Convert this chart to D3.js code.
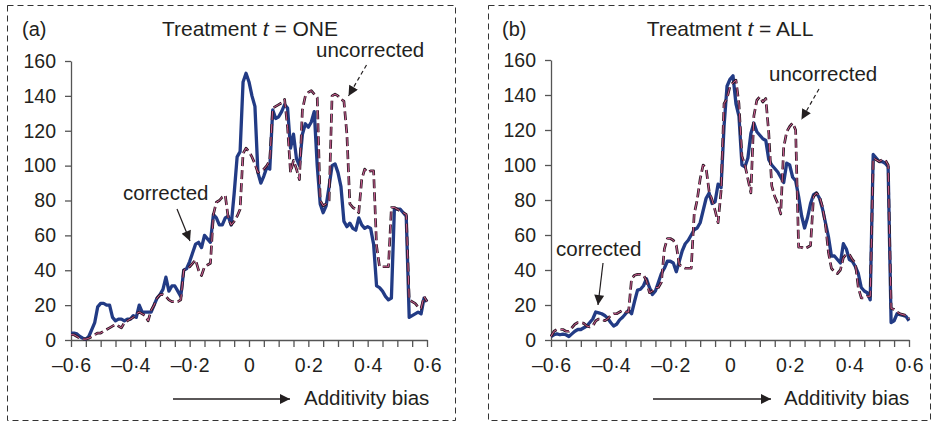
<!DOCTYPE html>
<html>
<head>
<meta charset="utf-8">
<script src="https://cdn.jsdelivr.net/npm/d3@7"></script>
<style>
  body { margin: 0; background: #fff; }
  svg { display: block; }
  text { font-family: "Liberation Sans", Arial, Helvetica, sans-serif; fill: #231f20; }
</style>
</head>
<body>
<svg id="chart" width="932" height="422"></svg>
<script>
// ---------------- data ----------------
// bin centres of the additivity bias histogram (-0.60 ... 0.60, step 0.01)
const bias = d3.range(-60, 61).map(i => i / 100);

// Panel (a): Treatment t = ONE
const oneCorrected = [
  4, 4, 3.5, 2, 1, 0.5, 2, 6, 10, 19,
  21, 21, 20, 20, 13, 11, 12, 12, 11, 12,
  12, 14, 13, 20, 16, 16, 16, 16, 20, 24,
  26, 29, 36, 28, 31, 31, 28, 25, 40, 41,
  45, 50, 55, 56, 53, 60, 58, 56, 72, 70,
  66, 66, 70, 71, 66, 84, 105, 108, 148, 153,
  148, 140, 134, 96, 90, 94, 99, 98, 132, 127,
  128, 131, 135, 133, 110, 118, 104, 100, 118, 124,
  122, 125, 131, 100, 78, 73, 77, 88, 100, 101,
  96, 88, 68, 65, 67, 64, 63, 70, 66, 64,
  65, 64, 55, 31, 30, 28, 25, 23, 24, 75,
  75, 75, 73, 71, 13, 14, 15, 16, 15, 24,
  22
];
const oneUncorrected = [
  3, 3, 2, 1, 0.5, 0.5, 1, 2, 3, 4,
  4, 5, 6, 7, 8, 9, 8, 7, 10, 11,
  12, 13, 15, 16, 15, 14, 11, 17, 20, 24,
  26, 26, 25, 23, 22, 22, 22, 23, 40, 41,
  42, 44, 46, 40, 37, 42, 43, 44, 72, 79,
  80, 82, 83, 70, 66, 68, 71, 75, 107, 110,
  108, 105, 101, 96, 97, 98, 100, 103, 133, 134,
  135, 136, 138, 122, 96, 103, 98, 92, 132, 140,
  142, 143, 141, 139, 80, 77, 78, 80, 140, 141,
  140, 138, 137, 118, 78, 76, 75, 73, 92, 98,
  96, 97, 97, 54, 42, 42, 42, 42, 76, 76,
  75, 74, 73, 72, 23, 22, 21, 19, 18, 25,
  22
];

// Panel (b): Treatment t = ALL
const allCorrected = [
  2, 3, 3.5, 3, 3.4, 3, 2, 3.5, 5, 6,
  6, 7, 8, 10, 12, 16, 15.5, 15, 14, 12.5,
  10, 8, 9, 11.5, 13, 15, 17, 15, 22, 28.5,
  29, 31, 35, 30, 26, 28, 33, 38, 41, 45,
  45, 44, 39, 45, 51, 55, 57, 60, 63, 64,
  67, 74, 81, 84, 78, 79, 89, 87, 122, 145,
  149, 151, 135, 128, 100, 99, 104, 118, 124, 119,
  117, 115, 114, 103, 100, 98, 96, 93, 90, 101,
  100, 93, 91, 82, 71, 64, 70, 78, 83, 84,
  81, 75, 67, 59, 48, 48, 46, 44, 55, 52,
  46, 45, 42, 38, 30, 28, 27, 23, 106, 104,
  102, 102, 101, 99, 10, 11, 15, 14.5, 14, 13.5,
  11
];
const allUncorrected = [
  2, 5, 6, 6, 6, 5, 5, 7, 9, 10,
  10, 9.5, 8, 7.5, 8, 11, 12, 12, 11, 12,
  14, 15, 15, 16, 17, 16, 16, 35, 37, 37.5,
  37.5, 37, 34, 27, 28, 30, 30, 33, 52, 58,
  58, 57, 54, 43, 42, 41, 41, 41, 72, 80,
  92, 100, 98, 85, 80, 74, 67, 85, 135, 138,
  145, 147, 148.5, 135, 105, 100, 92, 84, 128, 137,
  139, 136, 138, 118, 88, 82, 78, 72, 110, 119,
  122, 124, 120, 53, 53, 52, 53, 54, 82, 84,
  82, 76, 66, 50, 41, 39, 38, 40, 47, 49,
  49, 46, 44, 30, 24, 24, 25, 25, 104, 103,
  102, 103, 103, 100, 18, 17.5, 16, 15, 14.5, 14,
  12
];

const yTickValues = [0, 20, 40, 60, 80, 100, 120, 140, 160];
const xMajorTicks = [-0.6, -0.4, -0.2, 0, 0.2, 0.4, 0.6];
const xTickLabels = ["–0·6", "–0·4", "–0·2", "0", "0·2", "0·4", "0·6"];
const panelLetters = ["(a)", "(b)"];
const treatments = ["ONE", "ALL"];
const xAxisTitle = "Additivity bias";

// ---------------- layout ----------------
const panels = [
  { letter: panelLetters[0], treat: treatments[0], corr: oneCorrected, unc: oneUncorrected,
    box: [7.5, 5.5, 455.5, 420.5], x0: 71, x1: 427, y0: 340, y1: 61,
    letterX: 22, titleX: 250,
    uncText: [316, 57], uncArrow: [[366.5, 65], [348.5, 96]],
    corText: [123, 200], corArrow: [[177, 209], [190, 241]],
    axArrow: [173, 290], axText: 304 },
  { letter: panelLetters[1], treat: treatments[1], corr: allCorrected, unc: allUncorrected,
    box: [488.5, 5.5, 930.5, 420.5], x0: 551, x1: 909, y0: 340, y1: 60,
    letterX: 502, titleX: 730,
    uncText: [769, 81], uncArrow: [[819, 89], [801.5, 119.5]],
    corText: [556, 256], corArrow: [[603, 263], [598, 305]],
    axArrow: [653, 771], axText: 784 }
];

const svg = d3.select("#chart");
const defs = svg.append("defs");
defs.append("marker")
  .attr("id", "head").attr("viewBox", "0 0 10 10")
  .attr("refX", 10).attr("refY", 5)
  .attr("markerUnits", "userSpaceOnUse")
  .attr("markerWidth", 11).attr("markerHeight", 10)
  .attr("orient", "auto")
  .append("path").attr("d", "M0,0 L10,5 L0,10 Z").attr("fill", "#231f20");

const minorTicks = d3.range(-12, 13).map(i => i * 0.05);

panels.forEach(p => {
  const g = svg.append("g");
  const x = d3.scaleLinear().domain([-0.6, 0.6]).range([p.x0, p.x1]);
  const y = d3.scaleLinear().domain([0, 160]).range([p.y0, p.y1]);

  // dashed frame
  g.append("rect")
    .attr("x", p.box[0]).attr("y", p.box[1])
    .attr("width", p.box[2] - p.box[0]).attr("height", p.box[3] - p.box[1])
    .attr("fill", "none").attr("stroke", "#333")
    .attr("stroke-width", 1).attr("stroke-dasharray", "6,4");

  // y axis
  const yAxis = g.append("g").attr("transform", `translate(${p.x0},0)`)
    .call(d3.axisLeft(y).tickValues(yTickValues).tickSize(6).tickSizeOuter(0).tickPadding(9));
  yAxis.select(".domain").attr("stroke", "#555").attr("stroke-width", 1.3);
  yAxis.selectAll(".tick line").attr("stroke", "#555").attr("stroke-width", 1.3);
  yAxis.selectAll(".tick text").attr("font-size", 19.5).attr("font-family", "Liberation Sans, Arial, sans-serif").attr("fill", "#231f20");

  // x axis
  const xAxis = g.append("g").attr("transform", `translate(0,${p.y0})`)
    .call(d3.axisBottom(x).tickValues(minorTicks).tickSize(7).tickSizeOuter(0)
      .tickPadding(11)
      .tickFormat(v => {
        const k = xMajorTicks.findIndex(m => Math.abs(m - v) < 1e-6);
        return k >= 0 ? xTickLabels[k] : "";
      }));
  xAxis.select(".domain").attr("stroke", "#555").attr("stroke-width", 1.3);
  xAxis.selectAll(".tick line").attr("stroke", "#555").attr("stroke-width", 1.3);
  xAxis.selectAll(".tick text").attr("font-size", 19.5).attr("font-family", "Liberation Sans, Arial, sans-serif").attr("fill", "#231f20");

  // series
  const line = d3.line().x((d, i) => x(bias[i])).y(d => y(d)).curve(d3.curveLinear);
  g.append("path").datum(p.corr).attr("d", line)
    .attr("fill", "none").attr("stroke", "#223b85").attr("stroke-width", 3.3)
    .attr("stroke-linejoin", "round");
  g.append("path").datum(p.unc).attr("d", line)
    .attr("fill", "none").attr("stroke", "#2e1a26").attr("stroke-width", 2.7)
    .attr("stroke-dasharray", "9,4").attr("stroke-linejoin", "round");
  g.append("path").datum(p.unc).attr("d", line)
    .attr("fill", "none").attr("stroke", "#e2679f").attr("stroke-width", 0.9)
    .attr("stroke-dasharray", "9,4").attr("stroke-linejoin", "round");

  // titles
  g.append("text").attr("x", p.letterX).attr("y", 36).attr("font-size", 20).text(p.letter);
  const t = g.append("text").attr("x", p.titleX).attr("y", 36).attr("font-size", 21)
    .attr("text-anchor", "middle");
  t.append("tspan").text("Treatment ");
  t.append("tspan").attr("font-style", "italic").text("t");
  t.append("tspan").text(" = " + p.treat);

  // annotations
  g.append("text").attr("x", p.uncText[0]).attr("y", p.uncText[1]).attr("font-size", 20.5).text("uncorrected");
  g.append("line")
    .attr("x1", p.uncArrow[0][0]).attr("y1", p.uncArrow[0][1])
    .attr("x2", p.uncArrow[1][0]).attr("y2", p.uncArrow[1][1])
    .attr("stroke", "#231f20").attr("stroke-width", 1.2)
    .attr("stroke-dasharray", "4,3").attr("marker-end", "url(#head)");
  g.append("text").attr("x", p.corText[0]).attr("y", p.corText[1]).attr("font-size", 20.5).text("corrected");
  g.append("line")
    .attr("x1", p.corArrow[0][0]).attr("y1", p.corArrow[0][1])
    .attr("x2", p.corArrow[1][0]).attr("y2", p.corArrow[1][1])
    .attr("stroke", "#231f20").attr("stroke-width", 1.2)
    .attr("marker-end", "url(#head)");

  // x axis title with arrow
  g.append("line")
    .attr("x1", p.axArrow[0]).attr("y1", 399).attr("x2", p.axArrow[1]).attr("y2", 399)
    .attr("stroke", "#231f20").attr("stroke-width", 1.5)
    .attr("marker-end", "url(#head)");
  g.append("text").attr("x", p.axText).attr("y", 405).attr("font-size", 20.5).text(xAxisTitle);
});
</script>
</body>
</html>
